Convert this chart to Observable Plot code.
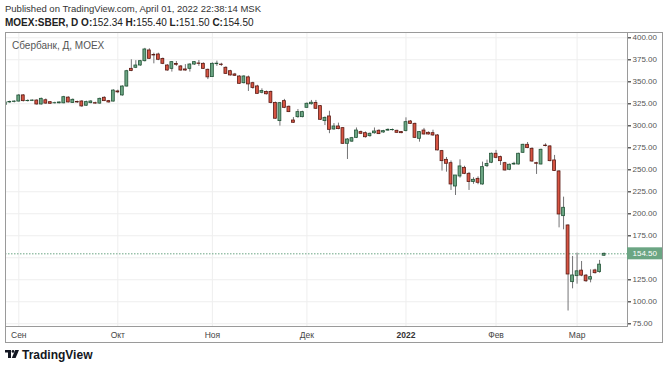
<!DOCTYPE html>
<html><head><meta charset="utf-8">
<script src="https://cdn.jsdelivr.net/npm/d3@7"></script>
<script src="https://cdn.jsdelivr.net/npm/@observablehq/plot@0.6"></script>
<style>
html,body{margin:0;padding:0;background:#fff;}
body{width:666px;height:369px;overflow:hidden;position:relative;font-family:"Liberation Sans",Arial,sans-serif;}
#h1{position:absolute;left:5px;top:3px;font-size:9.5px;color:#333;white-space:nowrap;}
#h2{position:absolute;left:5px;top:17px;font-size:10px;color:#222;white-space:nowrap;}
#h2 b{font-weight:bold}
#chart{position:absolute;left:0;top:31px;}
#box{position:absolute;left:5px;top:32px;width:658px;height:311px;border:1px solid #9a9a9a;box-sizing:border-box;pointer-events:none;}
#legend{position:absolute;left:12px;top:40px;font-size:10px;color:#555;white-space:nowrap;}
#footer{position:absolute;left:5px;top:348px;height:13px;display:flex;align-items:center;gap:3px;}
#footer span{font-size:12px;font-weight:bold;color:#131722;}
</style></head>
<body>
<div id="h1">Published on TradingView.com, April 01, 2022 22:38:14 MSK</div>
<div id="h2"><b>MOEX:SBER, D O:</b>152.34 <b>H:</b>155.40 <b>L:</b>151.50 <b>C:</b>154.50</div>
<div id="chart"></div>
<div id="box"></div>
<div id="legend">Сбербанк, Д, MOEX</div>
<div id="footer"><svg width="14" height="9" viewBox="0 0 14 9"><path d="M0 0H6V8H3V2.6H0Z" fill="#131722"/><circle cx="8" cy="1.4" r="1.4" fill="#131722"/><path d="M10.2 0H14L10.6 8H6.8Z" fill="#131722"/></svg><span>TradingView</span></div>
<script>
// Daily bars, 27 Aug 2021 – 01 Apr 2022 (bar index on x, as on TradingView)
const open  = [323.5,326.5,327,327.5,334.5,328,328.3,328.7,324.2,329,326.8,325.5,325.5,325.5,332,326,327,327.6,322.8,325.7,325.7,325.2,331.8,328,327.5,339,334.5,344.6,364.7,365.9,368.5,373.4,385.6,380.5,381,376,368.5,364.7,370.3,367.4,364,364.7,369.6,370.8,370.4,363.6,355.3,370,369.5,365.9,362,358.3,356,348.4,355,348.4,344.7,337.5,338.5,338.5,326,305.3,328,321.6,306,309.8,309.8,320.4,324.5,326,322.3,305.3,310.6,295.8,299.2,297.3,279.5,282,286.3,292.8,291.6,288.2,291.5,294.3,292.4,294.5,295,294.3,292.8,294,304.9,302.2,285.2,294.6,292,291.6,289,271.2,261.3,257.5,231,242.4,252.2,245.4,236,239.7,233.3,254.1,258,268.2,264.4,257.5,250,256,256,269.3,278.4,273.8,257.5,256,277.5,276.5,260.6,248.1,197.3,186.7,122.3,129.1,135.4,129.7,125.2,135.6,133.7,152.34];
const high  = [327,328,328.5,335.5,335.5,329.5,329.5,329.5,331.5,330.5,327.5,326.8,327,333.5,333,330.5,328,328.5,328,328.5,326.8,331.5,333,328.8,341,340.5,345.5,363,375,374,374.3,388,387.5,382.5,382.5,377,369.5,373,373,368.5,369.5,370.5,373,374.2,371.5,364.5,371.5,373.5,371,367,363,359.5,357,357,356.5,349.5,346,342,339.5,339.5,327,326.5,330,322.5,309.3,318.5,316.5,326,328.8,328.8,323,310,316.5,302.5,303,298,285.5,286.8,297.5,294,293,291.8,297.5,295.5,294.8,296.5,296.3,295,293.5,309,306,303,293.5,297,293,295,290,272,264,260,243.5,261.3,254,247,241,242,258.7,261,269,272,265.5,258.5,256.5,258.5,268.8,279,281,275,258.5,273.5,279.5,277.5,266.3,249,218.9,187.5,151.5,155.3,145.8,131,136.3,137,147,155.4];
const low   = [322,325.5,326,327,327,327,327.5,323.5,323.5,324.5,324.5,324.8,325,325,326,325.5,325.5,321,322,325,324.5,324.5,327.5,325.8,327,336.5,333.5,344,361.5,365,367.5,372.5,375.5,370.4,374,369.5,362,361,367.5,362,362,361,368.5,367.5,364,352.5,355,367.5,367.5,358.5,356.5,356,347,347.5,339,341.5,336,336.3,335,325,307.5,299.6,319.5,315,302.8,308.5,309,320,323.5,318.5,306,300.3,291,295,295.5,279,261.7,281,285.5,290,286,287,290.5,290,291.5,293.8,294,291.5,291,293,301.5,285.5,281.4,289.5,289.5,288,271.5,248.5,247.3,226.5,220.8,240.5,244.5,226.5,233.5,233,232.5,252.5,257,262.5,254.9,248.5,249,255,255.5,268.5,274,258.5,244.7,255.5,276,259,248,184,181.8,89.5,114.7,120,128.5,122,121.5,131.5,132.5,151.5];
const close = [326.5,327,327.5,334.4,328,328.3,328.7,324.2,330.6,325.2,325,325.7,326.5,332.5,326.5,329.5,326.5,322,326.9,327.6,325.2,330.6,328,326.5,340,338,344.6,362,362.3,368.5,373.4,386.7,376.1,379.9,375,370.4,362.8,372.3,369.3,362.8,362.8,369.6,372.3,370.4,364.7,355,370.4,370.6,369,359,357.2,356.8,347.7,356,347,343,336.3,339.5,335.8,326,308,325.7,320.4,315.5,303.4,315.5,315.5,325,326.2,319.3,306.8,309,295.4,299.2,296.2,279.5,284.4,285.9,294.6,290.9,287,290.9,293.5,290.5,293.9,295.4,295.2,292,291.6,304.1,302.2,286.3,292.8,290.1,290.1,289,272,259.8,256.8,233.3,243.5,253.8,245.4,236,238.6,235.2,253,256.6,268.2,263.6,259.8,249.2,255.7,256.8,268.2,278.4,274.6,259.4,256.8,272.7,276.9,259.8,248.5,199.2,206.8,131,129.9,134.6,129.7,123.3,128,132.5,142.2,154.5];

const monthTickIndex  = [3, 25, 46, 67, 89, 109, 127];
const monthTickLabels = ["Сен", "Окт", "Ноя", "Дек", "2022", "Фев", "Мар"];
const priceTicks = [75, 100, 125, 150, 175, 200, 225, 250, 275, 300, 325, 350, 375, 400];
const lastPrice = 154.50;

const UP = "#6ba583", DOWN = "#d75442", UP_BORDER = "#225437", DOWN_BORDER = "#5b1a13", WICK = "#737375";
const GRID = "#eeeeee", LINE = "#9a9a9a";
const xDomain = [0.05, 138.2];

const bars = open.map((o, i) => ({i, open: o, high: high[i], low: low[i], close: close[i], up: close[i] >= o}));
const labelOf = new Map(monthTickIndex.map((d, k) => [d, monthTickLabels[k]]));
const boldTicks = monthTickIndex.filter(d => /^\d+$/.test(labelOf.get(d)));
const normalTicks = monthTickIndex.filter(d => !/^\d+$/.test(labelOf.get(d)));
// the last-price tag hides the axis label it covers
const labelledPriceTicks = priceTicks.filter(t => Math.abs(t - lastPrice) > 9);

const chart = Plot.plot({
  width: 666, height: 312,
  marginLeft: 5, marginRight: 39, marginTop: 1, marginBottom: 17,
  x: {domain: xDomain, axis: null, label: null},
  y: {domain: [71.9, 406.0], axis: null, label: null},
  style: {fontFamily: "Liberation Sans, Arial, sans-serif", background: "transparent", overflow: "visible"},
  marks: [
    Plot.ruleY(priceTicks, {stroke: GRID}),
    Plot.ruleX(monthTickIndex, {stroke: GRID}),
    Plot.ruleY([lastPrice], {stroke: UP, strokeDasharray: "1.5,1.5"}),
    Plot.ruleX(bars, {x: "i", y1: "low", y2: "high", stroke: WICK, clip: true}),
    Plot.rect(bars, {x1: d => d.i - 0.32, x2: d => d.i + 0.32, y1: "open", y2: "close",
      fill: d => d.up ? UP : DOWN, stroke: d => d.up ? UP_BORDER : DOWN_BORDER, strokeWidth: 0.8, clip: true}),
    Plot.frame({stroke: LINE}),
    Plot.axisY(priceTicks, {anchor: "right", tickSize: 3, tickFormat: () => "", label: null, color: "#555"}),
    Plot.axisY(labelledPriceTicks, {anchor: "right", tickSize: 3, tickPadding: 2, tickFormat: d => d.toFixed(2),
      fontSize: 8, color: "#555", label: null}),
    Plot.rect([lastPrice], {x1: () => xDomain[1], x2: () => xDomain[1], y1: d => d, y2: d => d,
      insetRight: -35, insetTop: -6, insetBottom: -6, fill: UP}),
    Plot.text([lastPrice], {frameAnchor: "right", y: d => d, dx: 5, textAnchor: "start",
      text: d => d.toFixed(2), fill: "white", fontSize: 8}),
    Plot.axisX(normalTicks, {anchor: "bottom", tickSize: 0, tickPadding: 5, fontSize: 8.5, color: "#444",
      tickFormat: d => labelOf.get(d), label: null}),
    Plot.axisX(boldTicks, {anchor: "bottom", tickSize: 0, tickPadding: 5, fontSize: 8.5, color: "#333",
      fontWeight: "bold", tickFormat: d => labelOf.get(d), label: null})
  ]
});
document.getElementById("chart").appendChild(chart);
</script>
</body></html>
